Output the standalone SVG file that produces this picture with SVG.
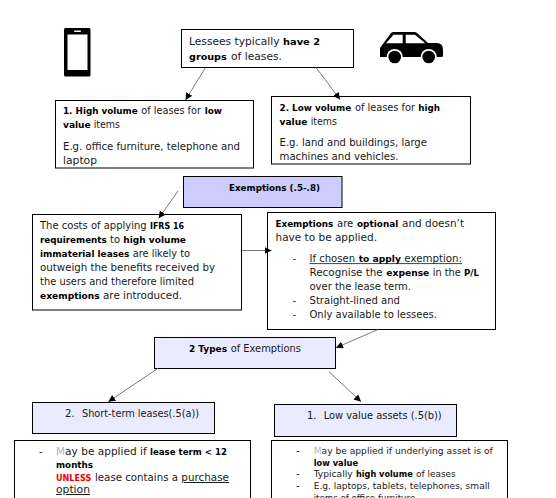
<svg xmlns="http://www.w3.org/2000/svg" width="556" height="498" viewBox="0 0 556 498">
<style>
text{font-family:"DejaVu Sans","Liberation Sans",sans-serif;font-size:10px;fill:#1a1a1a}
.b{font-weight:700;fill:#000;font-size:9.200px}
.s{font-size:8.600px}
.u{text-decoration:underline}
.r{fill:#f00000;font-weight:700;font-size:9.200px}
.f{fill:#b5b5b5}
.ul{stroke:#111;stroke-width:.8}
rect.n{fill:#fff;stroke:#000;stroke-width:1}
rect.d{fill:#ccccff;stroke:#000;stroke-width:1}
rect.l{fill:#ebebff;stroke:#000;stroke-width:1}
.c line{stroke:#555;stroke-width:.8;marker-end:url(#a)}
</style>
<defs><marker id="a" markerUnits="userSpaceOnUse" markerWidth="8" markerHeight="8" refX="7" refY="3.5" orient="auto"><path d="M0 0L7 3.5L0 7z" fill="#000"/></marker></defs>
<rect width="556" height="498" fill="#fff"/>
<g id="phone"><rect x="64" y="28" width="26.500" height="48.500" rx="1.500" fill="#000"/><rect x="67.500" y="34.500" width="20" height="35.500" fill="#fff"/><rect x="74" y="30.500" width="7" height="1.600" rx=".8" fill="#fff"/></g>
<g id="car"><path d="M380 48L391 33Q392 32 394 32H414Q416 32 417 33L428 43H437Q443 43 443 50V56Q443 57 441 57H380V48Z" fill="#000"/><path d="M386 43.300L393.500 34.700H402.700V43.300ZM405.700 34.700H415L425.300 43.300H405.700Z" fill="#fff"/><circle cx="394.700" cy="57" r="8" fill="#fff"/><circle cx="394.700" cy="57" r="6.300" fill="#000"/><circle cx="428.700" cy="57" r="8" fill="#fff"/><circle cx="428.700" cy="57" r="6.300" fill="#000"/></g>
<g id="intro"><rect class="n" x="181.500" y="29.500" width="172" height="38"/>
<text x="189" y="45" textLength="90.500" lengthAdjust="spacingAndGlyphs">Lessees typically</text>
<text class="b" x="283" y="45" textLength="37" lengthAdjust="spacingAndGlyphs">have 2</text>
<text class="b" x="189" y="60" textLength="37.700" lengthAdjust="spacingAndGlyphs">groups</text>
<text x="231" y="60" textLength="51" lengthAdjust="spacingAndGlyphs">of leases.</text></g>
<g id="high-volume"><rect class="n" x="55.500" y="100.500" width="198" height="67.500"/>
<text class="b" x="63" y="114" textLength="74.700" lengthAdjust="spacingAndGlyphs">1. High volume</text>
<text x="141.300" y="114" textLength="59.700" lengthAdjust="spacingAndGlyphs">of leases for</text>
<text class="b" x="204.700" y="114" textLength="17.300" lengthAdjust="spacingAndGlyphs">low</text>
<text class="b" x="63" y="128" textLength="27.700" lengthAdjust="spacingAndGlyphs">value</text>
<text x="93.700" y="128" textLength="26.300" lengthAdjust="spacingAndGlyphs">items</text>
<text x="63" y="150" textLength="177" lengthAdjust="spacingAndGlyphs">E.g. office furniture, telephone and</text>
<text x="63" y="164" textLength="34" lengthAdjust="spacingAndGlyphs">laptop</text></g>
<g id="low-volume"><rect class="n" x="271.500" y="96.500" width="199" height="67.500"/>
<text class="b" x="279.500" y="111" textLength="71.800" lengthAdjust="spacingAndGlyphs">2. Low volume</text>
<text x="355" y="111" textLength="60" lengthAdjust="spacingAndGlyphs">of leases for</text>
<text class="b" x="418.300" y="111" textLength="21.700" lengthAdjust="spacingAndGlyphs">high</text>
<text class="b" x="279.500" y="125" textLength="27.800" lengthAdjust="spacingAndGlyphs">value</text>
<text x="310.700" y="125" textLength="26.300" lengthAdjust="spacingAndGlyphs">items</text>
<text x="279.500" y="146" textLength="147.500" lengthAdjust="spacingAndGlyphs">E.g. land and buildings, large</text>
<text x="279.500" y="160" textLength="119" lengthAdjust="spacingAndGlyphs">machines and vehicles.</text></g>
<g id="exemptions"><rect class="d" x="183.500" y="176.500" width="158.500" height="31"/>
<text class="b" x="229" y="191" textLength="91" lengthAdjust="spacingAndGlyphs">Exemptions (.5-.8)</text></g>
<g id="costs"><rect class="n" x="32.500" y="214.500" width="209" height="95.500"/>
<text x="40" y="229" textLength="106.700" lengthAdjust="spacingAndGlyphs">The costs of applying</text>
<text class="b" x="150" y="229" textLength="34" lengthAdjust="spacingAndGlyphs">IFRS 16</text>
<text class="b" x="40" y="243" textLength="66.700" lengthAdjust="spacingAndGlyphs">requirements</text>
<text x="110" y="243" textLength="10" lengthAdjust="spacingAndGlyphs">to</text>
<text class="b" x="123.300" y="243" textLength="62.700" lengthAdjust="spacingAndGlyphs">high volume</text>
<text class="b" x="40" y="257" textLength="89.300" lengthAdjust="spacingAndGlyphs">immaterial leases</text>
<text x="132.700" y="257" textLength="57.300" lengthAdjust="spacingAndGlyphs">are likely to</text>
<text x="40" y="271" textLength="175" lengthAdjust="spacingAndGlyphs">outweigh the benefits received by</text>
<text x="40" y="285" textLength="154" lengthAdjust="spacingAndGlyphs">the users and therefore limited</text>
<text class="b" x="40" y="299" textLength="59.700" lengthAdjust="spacingAndGlyphs">exemptions</text>
<text x="103" y="299" textLength="79" lengthAdjust="spacingAndGlyphs">are introduced.</text></g>
<g id="optional"><rect class="n" x="267.500" y="212.500" width="228" height="117"/>
<text class="b" x="275.500" y="227" textLength="57.800" lengthAdjust="spacingAndGlyphs">Exemptions</text>
<text x="337" y="227" textLength="16.300" lengthAdjust="spacingAndGlyphs">are</text>
<text class="b" x="357" y="227" textLength="41.300" lengthAdjust="spacingAndGlyphs">optional</text>
<text x="402" y="227" textLength="62" lengthAdjust="spacingAndGlyphs">and doesn’t</text>
<text x="275.500" y="241" textLength="101.500" lengthAdjust="spacingAndGlyphs">have to be applied.</text>
<text x="292.500" y="262">-</text>
<text x="309.500" y="262" textLength="45.500" lengthAdjust="spacingAndGlyphs">If chosen</text>
<text class="b" x="358.700" y="262" textLength="42.300" lengthAdjust="spacingAndGlyphs">to apply</text>
<text x="404.300" y="262" textLength="57.700" lengthAdjust="spacingAndGlyphs">exemption:</text>
<line class="ul" x1="309.500" y1="263.600" x2="462" y2="263.600"/>
<text x="309.500" y="276" textLength="73.200" lengthAdjust="spacingAndGlyphs">Recognise the</text>
<text class="b" x="386.300" y="276" textLength="43" lengthAdjust="spacingAndGlyphs">expense</text>
<text x="432.700" y="276" textLength="28" lengthAdjust="spacingAndGlyphs">in the</text>
<text class="b" x="464" y="276" textLength="15" lengthAdjust="spacingAndGlyphs">P/L</text>
<text x="309.500" y="290" textLength="101.500" lengthAdjust="spacingAndGlyphs">over the lease term.</text>
<text x="292.500" y="304">-</text>
<text x="309.500" y="304" textLength="90.500" lengthAdjust="spacingAndGlyphs">Straight-lined and</text>
<text x="292.500" y="318">-</text>
<text x="309.500" y="318" textLength="127.500" lengthAdjust="spacingAndGlyphs">Only available to lessees.</text></g>
<g id="types"><rect class="l" x="154.500" y="337.500" width="181" height="31"/>
<text class="b" x="189" y="352" textLength="38" lengthAdjust="spacingAndGlyphs">2 Types</text>
<text x="230.700" y="352" textLength="70.300" lengthAdjust="spacingAndGlyphs">of Exemptions</text></g>
<g id="short-term"><rect class="l" x="32.500" y="402.500" width="182" height="31"/>
<text x="65" y="417">2.</text>
<text x="82" y="417" textLength="117" lengthAdjust="spacingAndGlyphs">Short-term leases(.5(a))</text></g>
<g id="low-value"><rect class="l" x="274.500" y="404.500" width="182" height="32"/>
<text x="307" y="419">1.</text>
<text x="323.700" y="419" textLength="118" lengthAdjust="spacingAndGlyphs">Low value assets (.5(b))</text></g>
<g id="short-detail"><rect class="n" x="14.500" y="440.500" width="236" height="70"/>
<text x="39" y="455">-</text>
<text x="56" y="455" textLength="90.700" lengthAdjust="spacingAndGlyphs"><tspan class="f">M</tspan>ay be applied if</text>
<text class="b" x="150" y="455" textLength="77" lengthAdjust="spacingAndGlyphs">lease term &lt; 12</text>
<text class="b" x="56" y="468" textLength="37" lengthAdjust="spacingAndGlyphs">months</text>
<text class="r" x="56" y="481" textLength="35.300" lengthAdjust="spacingAndGlyphs">UNLESS</text>
<text x="95" y="481" textLength="83" lengthAdjust="spacingAndGlyphs">lease contains a</text>
<text class="u" x="181.300" y="481" textLength="47.700" lengthAdjust="spacingAndGlyphs">purchase</text>
<text class="u" x="56" y="493" textLength="34" lengthAdjust="spacingAndGlyphs">option</text></g>
<g id="low-detail"><rect class="n" x="271.500" y="440.500" width="236" height="70"/>
<text x="296" y="454">-</text>
<text x="313.700" y="454" textLength="179" lengthAdjust="spacingAndGlyphs" class="s"><tspan class="f">M</tspan>ay be applied if underlying asset is of</text>
<text class="b s" x="313.700" y="466" textLength="44.300" lengthAdjust="spacingAndGlyphs">low value</text>
<text x="296" y="477">-</text>
<text class="s" x="313.700" y="477" textLength="39" lengthAdjust="spacingAndGlyphs">Typically</text>
<text class="b s" x="356" y="477" textLength="56.700" lengthAdjust="spacingAndGlyphs">high volume</text>
<text class="s" x="416" y="477" textLength="39.700" lengthAdjust="spacingAndGlyphs">of leases</text>
<text x="296" y="489">-</text>
<text class="s" x="313.700" y="489" textLength="176" lengthAdjust="spacingAndGlyphs">E.g. laptops, tablets, telephones, small</text>
<text class="s" x="313.700" y="501" textLength="104.300" lengthAdjust="spacingAndGlyphs">items of office furniture.</text></g>
<g id="connectors" class="c">
<line x1="205.500" y1="67.500" x2="185.500" y2="100"/>
<line x1="316" y1="67.500" x2="340" y2="99.500"/>
<line x1="178" y1="191" x2="158.700" y2="218.300"/>
<line x1="241.500" y1="250.500" x2="271.500" y2="250.500"/>
<line x1="378" y1="329.500" x2="336" y2="347.700"/>
<line x1="158" y1="368.300" x2="108.300" y2="401.700"/>
<line x1="329" y1="371.700" x2="361" y2="401.700"/>
</g>
</svg>
